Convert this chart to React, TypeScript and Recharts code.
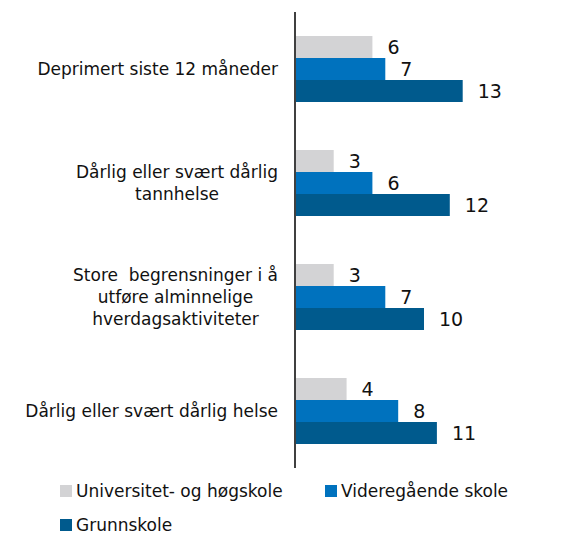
import { BarChart, Bar, XAxis, YAxis, LabelList } from 'recharts';

const categories = [
  'Deprimert siste 12 måneder',
  'Dårlig eller svært dårlig\ntannhelse',
  'Store  begrensninger i å\nutføre alminnelige\nhverdagsaktiviteter',
  'Dårlig eller svært dårlig helse',
];

const universitet = [6, 3, 3, 4];
const videregaende = [7, 6, 7, 8];
const grunnskole = [13, 12, 10, 11];

const seriesNames = ['Universitet- og høgskole', 'Videregående skole', 'Grunnskole'];
const COLORS = ['#D3D3D5', '#0072BE', '#005A8D'];

const data = categories.map((name, i) => ({
  name,
  universitet: universitet[i],
  videregaende: videregaende[i],
  grunnskole: grunnskole[i],
}));

const FONT = '"DejaVu Sans", sans-serif';
const TICK_SIZE = 17;

// measure so multi-line labels are centred inside a right-aligned block
const measure = (s: string) => {
  const ctx = document.createElement('canvas').getContext('2d');
  if (!ctx) return s.length * 9;
  ctx.font = `${TICK_SIZE}px "DejaVu Sans"`;
  return ctx.measureText(s).width;
};

const CategoryTick = (props: any) => {
  const { y, payload } = props;
  const lines = String(payload.value).split('\n');
  const lh = 22;
  const start = y - ((lines.length - 1) * lh) / 2;
  const w = Math.max(...lines.map(measure));
  const cx = 278 - w / 2;
  return (
    <text
      x={cx}
      y={start}
      textAnchor="middle"
      fontSize={TICK_SIZE}
      fill="#111"
      fontFamily={FONT}
      style={{ whiteSpace: 'pre' }}
    >
      {lines.map((l, i) => (
        <tspan key={i} x={cx} y={start + i * lh} dy="0.35em" textAnchor="middle">
          {l}
        </tspan>
      ))}
    </text>
  );
};

export default function App() {
  const keys = ['universitet', 'videregaende', 'grunnskole'];
  return (
    <div style={{ position: 'absolute', left: 0, top: 0, width: 577, height: 539, background: '#fff', fontFamily: FONT }}>
      <BarChart
        width={577}
        height={539}
        data={data}
        layout="vertical"
        margin={{ top: 12, right: 24, bottom: 71, left: 0 }}
        barCategoryGap={24}
        barGap={0}
      >
        <XAxis type="number" domain={[0, 20]} hide />
        <YAxis
          type="category"
          dataKey="name"
          width={295}
          axisLine={{ stroke: '#404040', strokeWidth: 2 }}
          tickLine={false}
          tick={<CategoryTick />}
          interval={0}
        />
        {keys.map((k, i) => (
          <Bar key={k} dataKey={k} fill={COLORS[i]} isAnimationActive={false}>
            <LabelList dataKey={k} position="right" offset={15} fontSize={19} fill="#111" fontFamily={FONT} />
          </Bar>
        ))}
      </BarChart>
      <div style={{ position: 'absolute', left: 60, top: 481, width: 510, fontSize: 17, color: '#111' }}>
        {seriesNames.map((n, i) => (
          <div
            key={n}
            style={{
              position: 'absolute',
              left: i === 1 ? 265 : 0,
              top: i === 2 ? 34 : 0,
              display: 'flex',
              alignItems: 'center',
              whiteSpace: 'nowrap',
            }}
          >
            <span style={{ width: 12, height: 12, background: COLORS[i], marginRight: 4, display: 'inline-block' }} />
            {n}
          </div>
        ))}
      </div>
    </div>
  );
}
